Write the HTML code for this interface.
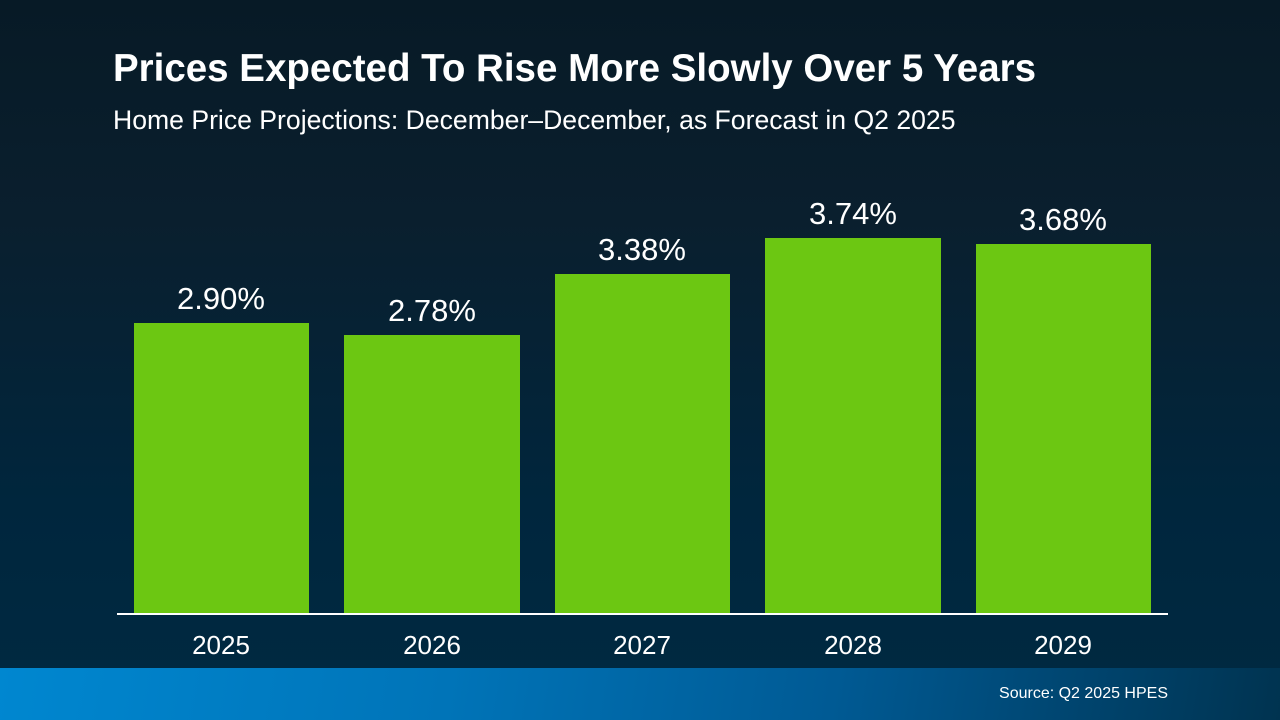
<!DOCTYPE html>
<html><head><meta charset="utf-8"><style>
html,body{margin:0;padding:0}
body{width:1280px;height:720px;position:relative;overflow:hidden;font-family:"Liberation Sans",Arial,sans-serif;color:#fff;
background:linear-gradient(180deg,#071a26 0%,#0a1f2e 30%,#00263d 70%,#002a42 100%);}
.t{position:absolute;left:113px;top:47px;font-size:38.5px;font-weight:bold;white-space:nowrap}
.s{position:absolute;left:113px;top:105px;font-size:26.6px;white-space:nowrap}
.bar{position:absolute;background:#6cc712;bottom:106px}
.v{position:absolute;font-size:31px;text-align:center;width:200px}
.y{position:absolute;font-size:26px;text-align:center;width:200px;top:630px}
.axis{position:absolute;left:117px;width:1051px;top:613px;height:2px;background:#fff}
.foot{position:absolute;left:0;top:668px;width:1280px;height:52px;background:linear-gradient(100deg,#0087d0 0%,#0074b8 35%,#005a94 65%,#003350 100%)}
.src{position:absolute;right:112px;top:685px;font-size:16px;color:#fff}
</style></head><body>
<div class="t">Prices Expected To Rise More Slowly Over 5 Years</div>
<div class="s">Home Price Projections: December–December, as Forecast in Q2 2025</div>

<div class="bar" style="left:134px;width:175px;top:323px"></div>
<div class="bar" style="left:344px;width:176px;top:335px"></div>
<div class="bar" style="left:555px;width:175px;top:274px"></div>
<div class="bar" style="left:765px;width:176px;top:238px"></div>
<div class="bar" style="left:976px;width:175px;top:244px"></div>

<div class="v" style="left:121px;top:281px">2.90%</div>
<div class="v" style="left:332px;top:293px">2.78%</div>
<div class="v" style="left:542px;top:232px">3.38%</div>
<div class="v" style="left:753px;top:196px">3.74%</div>
<div class="v" style="left:963px;top:202px">3.68%</div>

<div class="axis"></div>
<div class="y" style="left:121px">2025</div>
<div class="y" style="left:332px">2026</div>
<div class="y" style="left:542px">2027</div>
<div class="y" style="left:753px">2028</div>
<div class="y" style="left:963px">2029</div>

<div class="foot"></div>
<div class="src">Source: Q2 2025 HPES</div>
</body></html>
